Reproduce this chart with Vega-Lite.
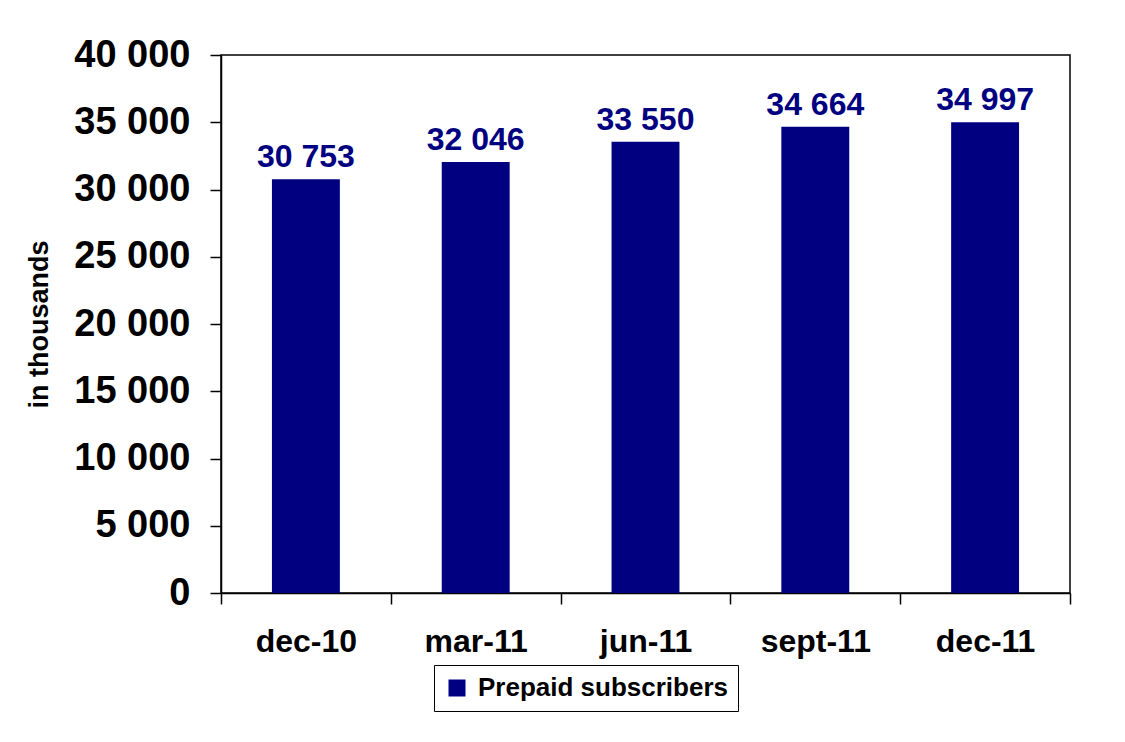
{
  "$schema": "https://vega.github.io/schema/vega-lite/v6.json",
  "width": 849,
  "height": 538,
  "autosize": "none",
  "padding": {"left": 221, "top": 55, "right": 55, "bottom": 149},
  "background": "white",
  "data": {
    "values": [
      {"period": "dec-10", "subscribers": 30753, "series": "Prepaid subscribers"},
      {"period": "mar-11", "subscribers": 32046, "series": "Prepaid subscribers"},
      {"period": "jun-11", "subscribers": 33550, "series": "Prepaid subscribers"},
      {"period": "sept-11", "subscribers": 34664, "series": "Prepaid subscribers"},
      {"period": "dec-11", "subscribers": 34997, "series": "Prepaid subscribers"}
    ]
  },
  "encoding": {
    "x": {
      "field": "period",
      "type": "nominal",
      "sort": null,
      "scale": {"paddingInner": 0, "paddingOuter": 0},
      "axis": {
        "title": null,
        "labelAngle": 0,
        "tickBand": "extent",
        "labelFontSize": 32,
        "labelPadding": 22,
        "tickSize": 11
      }
    },
    "y": {
      "field": "subscribers",
      "type": "quantitative",
      "scale": {"domain": [0, 40000], "nice": false},
      "axis": {
        "title": "in thousands",
        "values": [0, 5000, 10000, 15000, 20000, 25000, 30000, 35000, 40000],
        "format": ",d",
        "labelFontSize": 38,
        "labelPadding": 20,
        "tickSize": 11,
        "titleFontSize": 27,
        "titlePadding": 20,
        "grid": false
      }
    }
  },
  "layer": [
    {
      "mark": {"type": "bar", "color": "#000080", "width": {"band": 0.4}},
      "encoding": {
        "color": {
          "field": "series",
          "type": "nominal",
          "scale": {"range": ["#000080"]},
          "legend": {
            "title": null,
            "orient": "none",
            "legendX": 213,
            "legendY": 610,
            "direction": "horizontal",
            "symbolType": "square",
            "symbolSize": 289,
            "symbolStrokeWidth": 0,
            "labelFontSize": 26,
            "labelOffset": 8,
            "padding": 10,
            "strokeColor": "black",
            "labelLimit": 500
          }
        }
      }
    },
    {
      "mark": {
        "type": "text",
        "color": "#000080",
        "fontSize": 32,
        "fontWeight": "bold",
        "baseline": "alphabetic",
        "dy": -12
      },
      "encoding": {
        "text": {"field": "subscribers", "type": "quantitative", "format": ",d"}
      }
    }
  ],
  "config": {
    "locale": {
      "number": {
        "decimal": ".",
        "thousands": " ",
        "grouping": [3],
        "currency": ["", ""]
      }
    },
    "font": "Liberation Sans",
    "view": {"stroke": "black", "strokeWidth": 1.5},
    "axis": {
      "labelFont": "Liberation Sans",
      "titleFont": "Liberation Sans",
      "labelFontWeight": "bold",
      "titleFontWeight": "bold",
      "labelColor": "black",
      "titleColor": "black",
      "domainColor": "black",
      "tickColor": "black",
      "domainWidth": 1.5,
      "tickWidth": 1.5
    },
    "legend": {
      "labelFont": "Liberation Sans",
      "labelFontWeight": "bold",
      "labelColor": "black"
    }
  }
}
